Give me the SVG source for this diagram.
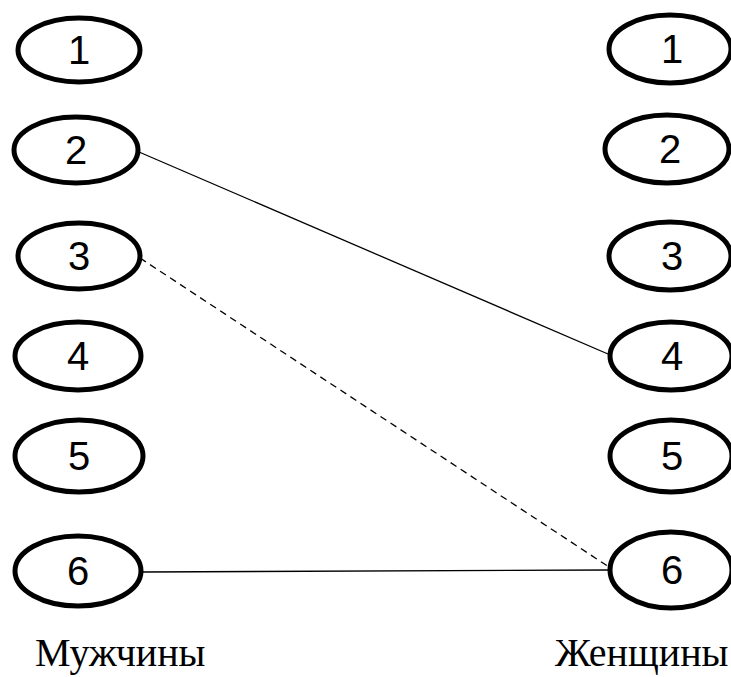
<svg xmlns="http://www.w3.org/2000/svg" width="731" height="677" viewBox="0 0 731 677">
<style>
.n ellipse{fill:#fff;stroke:#000;stroke-width:5}
.n text{font-family:"Liberation Sans",Arial,sans-serif;font-size:40px;text-anchor:middle;fill:#000}
.lab{font-family:"Liberation Serif","Times New Roman",serif;font-size:40px;fill:#000}
.c line{stroke:#000;stroke-width:1.3}
</style>
<rect width="731" height="677" fill="#fff"/>
<g class="c">
<line x1="139" y1="152" x2="608" y2="354"/>
<line x1="140" y1="258" x2="609" y2="567" stroke-dasharray="7,5"/>
<line x1="143" y1="572" x2="609" y2="570"/>
</g>
<g id="m1" class="n"><ellipse cx="79" cy="50" rx="61" ry="32"/><text x="79" y="64">1</text></g>
<g id="m2" class="n"><ellipse cx="76" cy="150" rx="62" ry="33"/><text x="76" y="164">2</text></g>
<g id="m3" class="n"><ellipse cx="79" cy="256" rx="61" ry="33"/><text x="79" y="270">3</text></g>
<g id="m4" class="n"><ellipse cx="78" cy="356" rx="63" ry="34"/><text x="78" y="370">4</text></g>
<g id="m5" class="n"><ellipse cx="79" cy="456" rx="64" ry="36"/><text x="79" y="470">5</text></g>
<g id="m6" class="n"><ellipse cx="78" cy="571" rx="63" ry="35"/><text x="78" y="585">6</text></g>
<g id="w1" class="n"><ellipse cx="670" cy="49" rx="61" ry="34"/><text x="672" y="63">1</text></g>
<g id="w2" class="n"><ellipse cx="667" cy="149" rx="62" ry="34"/><text x="670" y="163">2</text></g>
<g id="w3" class="n"><ellipse cx="670" cy="256" rx="61" ry="34"/><text x="672" y="270">3</text></g>
<g id="w4" class="n"><ellipse cx="671" cy="356" rx="61" ry="34"/><text x="672" y="370">4</text></g>
<g id="w5" class="n"><ellipse cx="671" cy="456" rx="61" ry="36"/><text x="672" y="470">5</text></g>
<g id="w6" class="n"><ellipse cx="671" cy="570" rx="61" ry="38"/><text x="672" y="584">6</text></g>
<text class="lab" x="35" y="666">Мужчины</text>
<text class="lab" x="555" y="666">Женщины</text>
</svg>
